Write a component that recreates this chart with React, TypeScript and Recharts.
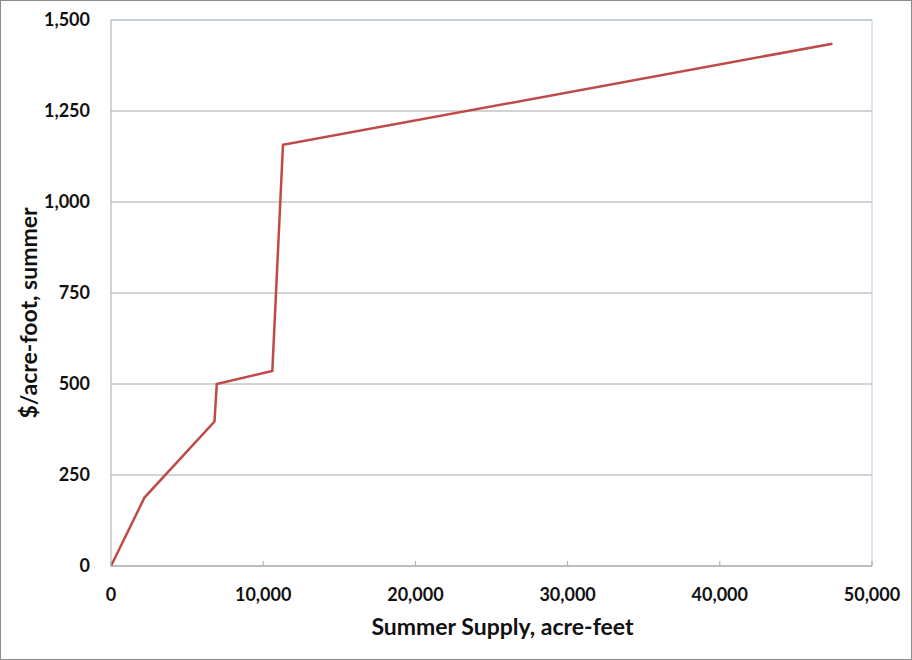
import React from 'react';
import { LineChart, Line, XAxis, YAxis, CartesianGrid, ReferenceLine, Label } from 'recharts';

// summer supply curve
const supplyAcreFeet = [0, 2200, 6800, 6950, 10600, 11300, 47400];
const pricePerAcreFoot = [0, 188, 397, 500, 536, 1157, 1435];

const xTicks = [0, 10000, 20000, 30000, 40000, 50000];
const yTicks = [0, 250, 500, 750, 1000, 1250, 1500];

const data = supplyAcreFeet.map((s, i) => ({ supply: s, price: pricePerAcreFoot[i] }));

const FONT = 'Lato, "Open Sans", sans-serif';
const TEXT = '#111111';
const GRID = '#a8a8a8';
const BORDER_BLUE = '#b8cce4';

const fmt = (v: number) => v.toLocaleString('en-US');

export default function App() {
  return (
    <div
      style={{
        position: 'absolute',
        left: 0,
        top: 0,
        width: 912,
        height: 660,
        boxSizing: 'border-box',
        border: '1px solid #8c8c8c',
        background: '#fff',
      }}
    >
      <LineChart
        width={910}
        height={658}
        data={data}
        margin={{ top: 19, right: 39, left: 0, bottom: 0 }}
        style={{ fontFamily: FONT }}
      >
        <CartesianGrid vertical={false} stroke={GRID} strokeWidth={1} />
        <XAxis
          dataKey="supply"
          type="number"
          domain={[0, 50000]}
          ticks={xTicks}
          tickFormatter={fmt}
          height={93}
          tickSize={-5}
          tickMargin={27}
          axisLine={{ stroke: GRID }}
          tickLine={{ stroke: GRID }}
          tick={{ fill: TEXT, fontSize: 18, fontWeight: 700, fontFamily: FONT }}
        >
          <Label
            content={(props: any) => {
              const vb = props.viewBox;
              return (
                <text
                  x={vb.x + vb.width / 2 + 11}
                  y={vb.y + 69}
                  textAnchor="middle"
                  fill={TEXT}
                  fontSize={23}
                  fontWeight={700}
                  fontFamily={FONT}
                >
                  Summer Supply, acre-feet
                </text>
              );
            }}
          />
        </XAxis>
        <YAxis
          type="number"
          domain={[0, 1500]}
          ticks={yTicks}
          tickFormatter={fmt}
          width={110}
          tickSize={0}
          tickMargin={21}
          axisLine={{ stroke: GRID }}
          tickLine={false}
          tick={{ fill: TEXT, fontSize: 18, fontWeight: 700, fontFamily: FONT }}
        >
          <Label
            content={(props: any) => {
              const vb = props.viewBox;
              const cx = 27;
              const cy = vb.y + vb.height / 2 + 20;
              return (
                <text
                  x={cx}
                  y={cy}
                  transform={`rotate(-90 ${cx} ${cy})`}
                  textAnchor="middle"
                  dominantBaseline="central"
                  fill={TEXT}
                  fontSize={23}
                  fontWeight={700}
                  fontFamily={FONT}
                >
                  $/acre-foot, summer
                </text>
              );
            }}
          />
        </YAxis>
        <ReferenceLine y={1500} stroke={BORDER_BLUE} strokeWidth={1} />
        <ReferenceLine x={50000} stroke={BORDER_BLUE} strokeWidth={1} />
        <Line
          type="linear"
          dataKey="price"
          stroke="#be4b48"
          strokeWidth={2.5}
          dot={false}
          activeDot={false}
          isAnimationActive={false}
        />
      </LineChart>
    </div>
  );
}
